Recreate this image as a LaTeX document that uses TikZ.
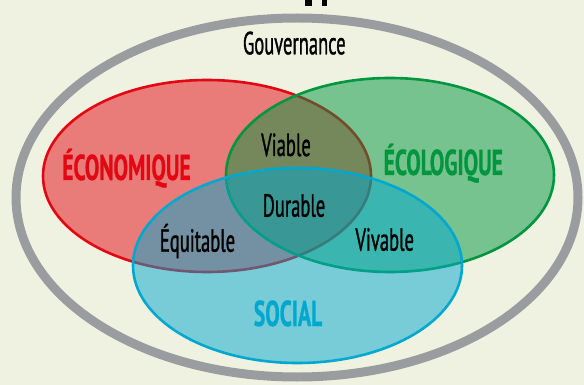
\documentclass[tikz,border=0pt]{standalone}
\usepackage{fontspec}
\newfontfamily\labfont[FakeStretch=0.58, FakeBold=0.9]{PT Sans}
\newfontfamily\bigfont[FakeStretch=0.6, FakeBold=0.6]{PT Sans Bold}
\definecolor{bgc}{RGB}{240,242,225}
\definecolor{greyc}{RGB}{155,156,160}
\definecolor{redc}{RGB}{227,6,19}
\definecolor{greenc}{RGB}{0,150,64}
\definecolor{bluec}{RGB}{0,168,207}
\tikzset{
  setc/.style={line width=2.6pt, fill opacity=0.5, draw opacity=1},
  lab/.style={inner sep=0pt, anchor=base, font=\labfont\fontsize{32}{32}\selectfont, text=black},
  biglab/.style={inner sep=0pt, anchor=base, font=\bigfont\fontsize{36}{36}\selectfont},
}
\begin{document}
\begin{tikzpicture}[x=1pt,y=-1pt]
\useasboundingbox[fill=bgc] (0,0) rectangle (584,385);
% fragments of the cut-off title above the picture
\fill[black] (305,0) rectangle (312,6.5);
\fill[black] (322,0) rectangle (327,6.5);
% outer governance ellipse
\draw[greyc, line width=9pt] (297,197.5) ellipse [x radius=281pt, y radius=179.5pt];
% three sets
\draw[setc, draw=redc, fill=redc] (207,176) ellipse [x radius=164pt, y radius=96pt];
\draw[setc, draw=greenc, fill=greenc] (390,175) ellipse [x radius=164pt, y radius=97pt];
\draw[setc, draw=bluec, fill=bluec] (297.5,265.5) ellipse [x radius=164.5pt, y radius=97.5pt];
% labels
\node[lab] (gouv) at (294.3,54.3) {Gouvernance};
\node[biglab, text=redc] (eco) at (126.5,180) {ÉCONOMIQUE};
\node[biglab, text=greenc] (ecol) at (443.3,175) {ÉCOLOGIQUE};
\node[biglab, text=bluec] (soc) at (288,326) {SOCIAL};
\node[lab] (viable) at (286,156) {Viable};
\node[lab] (durable) at (294,216.7) {Durable};
\node[lab] (equit) at (197.5,251.7) {Équitable};
\node[lab] (vivable) at (384.7,250.7) {Vivable};
\end{tikzpicture}
\end{document}
